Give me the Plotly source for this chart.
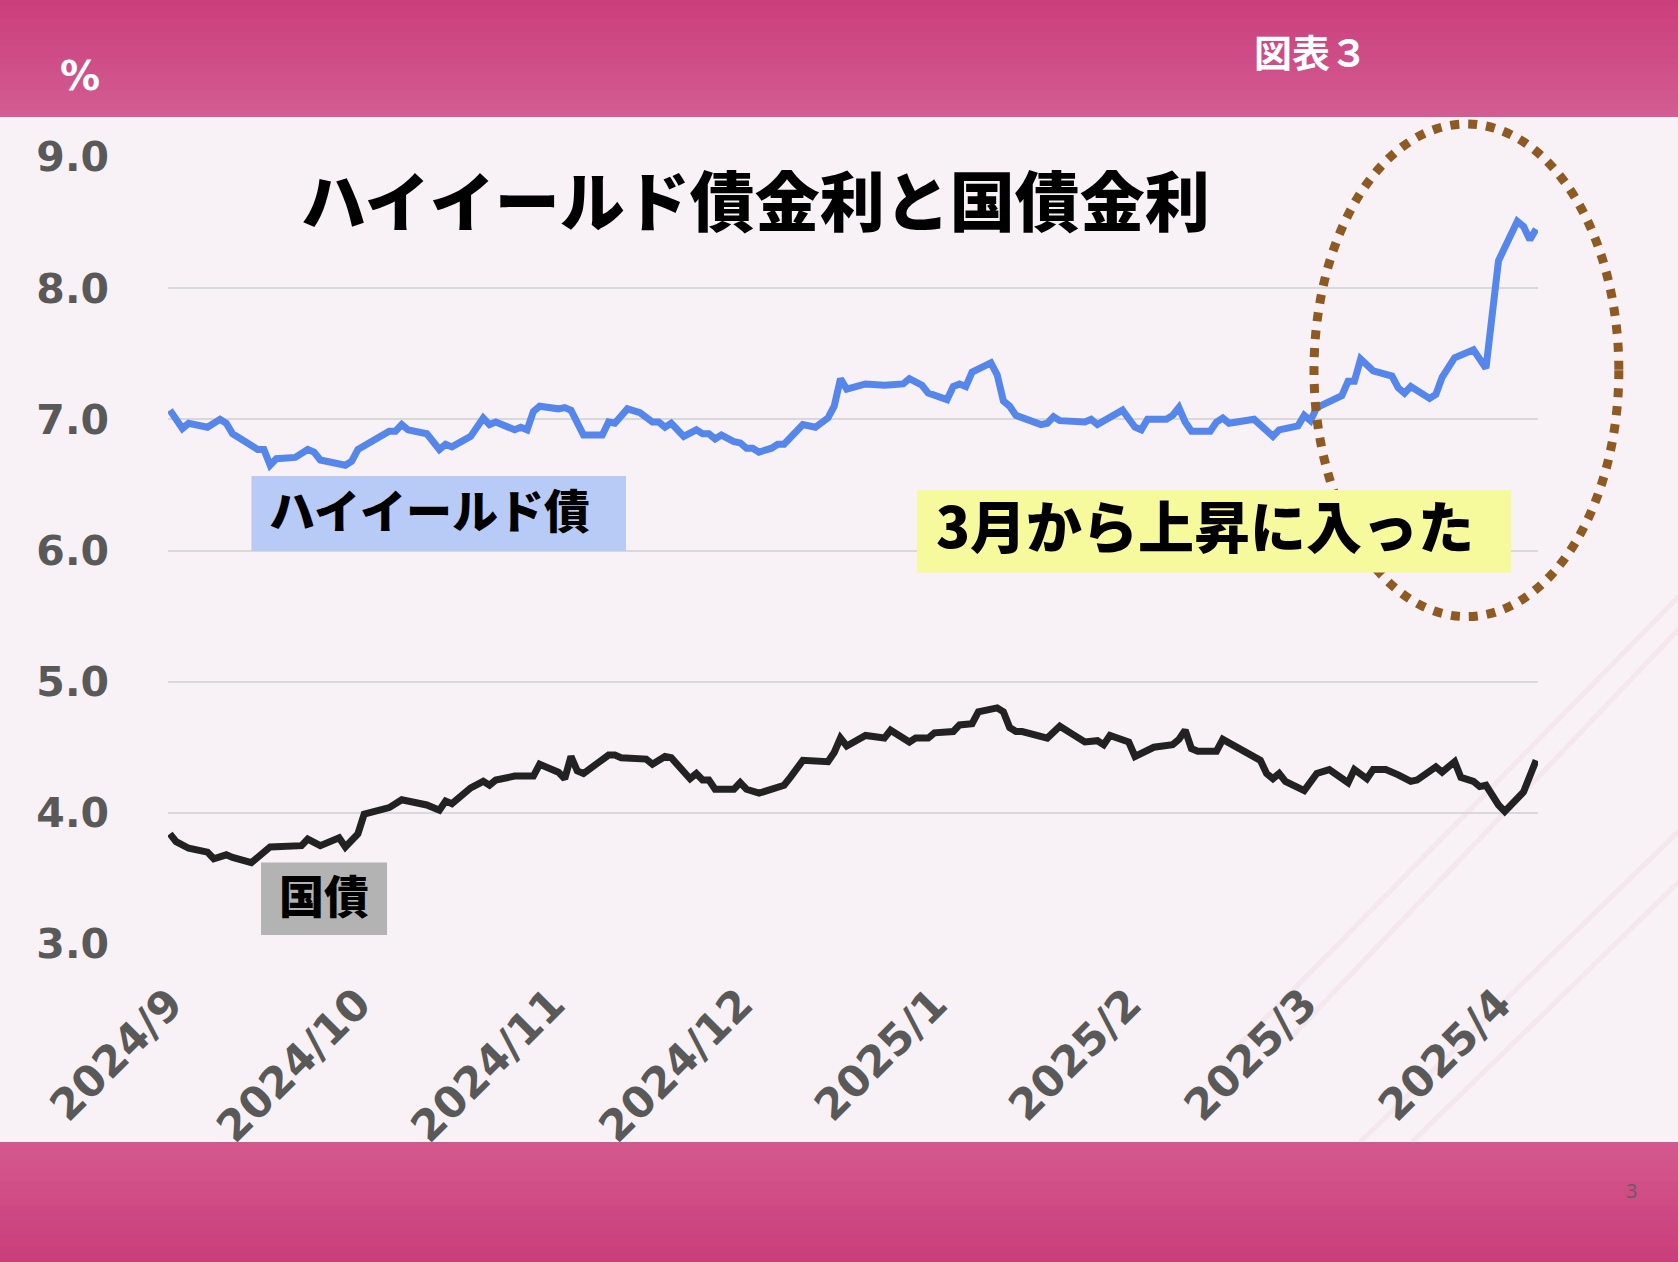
import plotly.graph_objects as go

# ハイイールド債（実効利回り）と米国債10年の金利, %
hy_dates = [
    "2024-09-01", "2024-09-03", "2024-09-04", "2024-09-07", "2024-09-09", "2024-09-10",
    "2024-09-11", "2024-09-14", "2024-09-15", "2024-09-16", "2024-09-17", "2024-09-18",
    "2024-09-21", "2024-09-23", "2024-09-24", "2024-09-25", "2024-09-29", "2024-09-30",
    "2024-10-01", "2024-10-06", "2024-10-07", "2024-10-08", "2024-10-09", "2024-10-12",
    "2024-10-14", "2024-10-15", "2024-10-16", "2024-10-19", "2024-10-21", "2024-10-22",
    "2024-10-23", "2024-10-26", "2024-10-27", "2024-10-28", "2024-10-29", "2024-10-30",
    "2024-11-02", "2024-11-03", "2024-11-04", "2024-11-06", "2024-11-09", "2024-11-10",
    "2024-11-11", "2024-11-13", "2024-11-15", "2024-11-17", "2024-11-18", "2024-11-19",
    "2024-11-20", "2024-11-22", "2024-11-24", "2024-11-25", "2024-11-26", "2024-11-27",
    "2024-11-28", "2024-11-30", "2024-12-01", "2024-12-02", "2024-12-03", "2024-12-04",
    "2024-12-06", "2024-12-07", "2024-12-08", "2024-12-11", "2024-12-13", "2024-12-15",
    "2024-12-16", "2024-12-17", "2024-12-18", "2024-12-21", "2024-12-24", "2024-12-27",
    "2024-12-28", "2024-12-30", "2024-12-31", "2025-01-03", "2025-01-04", "2025-01-05",
    "2025-01-06", "2025-01-07", "2025-01-08", "2025-01-10", "2025-01-11", "2025-01-12",
    "2025-01-13", "2025-01-14", "2025-01-18", "2025-01-19", "2025-01-20", "2025-01-21",
    "2025-01-25", "2025-01-26", "2025-01-27", "2025-01-31", "2025-02-02", "2025-02-03",
    "2025-02-04", "2025-02-07", "2025-02-08", "2025-02-09", "2025-02-10", "2025-02-11",
    "2025-02-14", "2025-02-15", "2025-02-16", "2025-02-17", "2025-02-21", "2025-02-24",
    "2025-02-25", "2025-02-28", "2025-03-01", "2025-03-02", "2025-03-03", "2025-03-07",
    "2025-03-08", "2025-03-09", "2025-03-10", "2025-03-12", "2025-03-15", "2025-03-16",
    "2025-03-17", "2025-03-18", "2025-03-21", "2025-03-22", "2025-03-23", "2025-03-25",
    "2025-03-28", "2025-03-30", "2025-04-01", "2025-04-04", "2025-04-05", "2025-04-06",
    "2025-04-07",
]
hy_rate = [
    7.07, 6.93, 6.97, 6.94, 7.00, 6.97,
    6.89, 6.81, 6.77, 6.77, 6.65, 6.70,
    6.71, 6.77, 6.75, 6.69, 6.65, 6.68,
    6.77, 6.91, 6.91, 6.96, 6.92, 6.89,
    6.77, 6.81, 6.79, 6.87, 7.01, 6.96,
    6.98, 6.92, 6.94, 6.92, 7.06, 7.10,
    7.08, 7.09, 7.07, 6.88, 6.88, 6.98,
    6.97, 7.08, 7.05, 6.98, 6.98, 6.94,
    6.97, 6.87, 6.92, 6.89, 6.89, 6.85,
    6.88, 6.83, 6.82, 6.78, 6.78, 6.75,
    6.78, 6.81, 6.81, 6.96, 6.94, 7.01,
    7.10, 7.31, 7.23, 7.27, 7.26, 7.27,
    7.31, 7.26, 7.20, 7.15, 7.25, 7.27,
    7.25, 7.36, 7.38, 7.43, 7.34, 7.14,
    7.10, 7.03, 6.96, 6.97, 7.02, 6.99,
    6.98, 7.00, 6.96, 7.07, 6.94, 6.92,
    7.00, 7.00, 7.03, 7.09, 6.98, 6.91,
    6.91, 6.98, 7.01, 6.97, 7.00, 6.87,
    6.92, 6.95, 7.03, 6.99, 7.09, 7.18,
    7.29, 7.29, 7.46, 7.37, 7.33, 7.24,
    7.20, 7.25, 7.16, 7.19, 7.32, 7.47,
    7.53, 7.39, 8.21, 8.51, 8.47, 8.37,
    8.45,
]

tsy_dates = [
    "2024-09-01", "2024-09-02", "2024-09-04", "2024-09-07", "2024-09-08", "2024-09-09",
    "2024-09-10", "2024-09-11", "2024-09-14", "2024-09-17", "2024-09-22", "2024-09-23",
    "2024-09-25", "2024-09-28", "2024-09-29", "2024-10-01", "2024-10-02", "2024-10-06",
    "2024-10-08", "2024-10-12", "2024-10-14", "2024-10-15", "2024-10-16", "2024-10-19",
    "2024-10-21", "2024-10-22", "2024-10-23", "2024-10-26", "2024-10-29", "2024-10-30",
    "2024-11-02", "2024-11-03", "2024-11-04", "2024-11-05", "2024-11-06", "2024-11-08",
    "2024-11-10", "2024-11-11", "2024-11-12", "2024-11-16", "2024-11-17", "2024-11-19",
    "2024-11-20", "2024-11-23", "2024-11-24", "2024-11-25", "2024-11-26", "2024-11-27",
    "2024-11-30", "2024-12-01", "2024-12-02", "2024-12-04", "2024-12-08", "2024-12-09",
    "2024-12-11", "2024-12-15", "2024-12-16", "2024-12-17", "2024-12-18", "2024-12-21",
    "2024-12-24", "2024-12-25", "2024-12-28", "2024-12-29", "2024-12-31", "2025-01-01",
    "2025-01-04", "2025-01-05", "2025-01-07", "2025-01-08", "2025-01-11", "2025-01-12",
    "2025-01-13", "2025-01-14", "2025-01-15", "2025-01-19", "2025-01-21", "2025-01-23",
    "2025-01-25", "2025-01-27", "2025-01-28", "2025-01-29", "2025-02-01", "2025-02-02",
    "2025-02-05", "2025-02-08", "2025-02-09", "2025-02-10", "2025-02-11", "2025-02-12",
    "2025-02-15", "2025-02-16", "2025-02-19", "2025-02-22", "2025-02-23", "2025-02-24",
    "2025-02-25", "2025-02-26", "2025-03-01", "2025-03-03", "2025-03-05", "2025-03-08",
    "2025-03-09", "2025-03-11", "2025-03-12", "2025-03-14", "2025-03-16", "2025-03-18",
    "2025-03-19", "2025-03-22", "2025-03-23", "2025-03-25", "2025-03-26", "2025-03-28",
    "2025-03-29", "2025-03-30", "2025-04-01", "2025-04-02", "2025-04-05", "2025-04-07",
]
tsy_rate = [
    3.84, 3.78, 3.73, 3.70, 3.65, 3.66,
    3.68, 3.66, 3.62, 3.74, 3.75, 3.80,
    3.75, 3.81, 3.74, 3.84, 3.99, 4.04,
    4.10, 4.06, 4.02, 4.09, 4.07, 4.19,
    4.24, 4.21, 4.25, 4.28, 4.28, 4.37,
    4.31, 4.26, 4.43, 4.32, 4.30, 4.37,
    4.44, 4.44, 4.42, 4.41, 4.37, 4.43,
    4.42, 4.26, 4.30, 4.25, 4.25, 4.18,
    4.18, 4.23, 4.18, 4.15, 4.21, 4.27,
    4.40, 4.39, 4.46, 4.57, 4.51, 4.59,
    4.57, 4.63, 4.54, 4.57, 4.57, 4.61,
    4.62, 4.67, 4.68, 4.77, 4.80, 4.77,
    4.65, 4.62, 4.62, 4.57, 4.66, 4.60,
    4.54, 4.55, 4.52, 4.59, 4.54, 4.43,
    4.50, 4.52, 4.56, 4.63, 4.49, 4.47,
    4.47, 4.56, 4.48, 4.40, 4.30, 4.26,
    4.30, 4.24, 4.17, 4.30, 4.33, 4.23,
    4.33, 4.26, 4.33, 4.33, 4.29, 4.24,
    4.25, 4.35, 4.31, 4.39, 4.27, 4.24,
    4.20, 4.21, 4.06, 4.01, 4.16, 4.40,
]

month_ticks = ["2024-09-01", "2024-10-01", "2024-11-01", "2024-12-01",
               "2025-01-01", "2025-02-01", "2025-03-01", "2025-04-01"]
month_labels = ["2024/9", "2024/10", "2024/11", "2024/12",
                "2025/1", "2025/2", "2025/3", "2025/4"]
y_ticks = [3, 4, 5, 6, 7, 8, 9]

JP = "Noto Sans CJK JP"
NUM = "DejaVu Sans"
GREY = "#595959"

fig = go.Figure()
fig.add_trace(go.Scatter(x=hy_dates, y=hy_rate, mode="lines", name="ハイイールド債",
                         line=dict(color="#5486ec", width=7)))
fig.add_trace(go.Scatter(x=tsy_dates, y=tsy_rate, mode="lines", name="国債",
                         line=dict(color="#222222", width=7)))


def band(y_top, y_bot, c_top, c_bot, n=24):
    # 縦グラデーションの帯（矩形を少しずつ重ねる）
    out = []
    for i in range(n):
        t = i / (n - 1)
        c = tuple(round(a + (b - a) * t) for a, b in zip(c_top, c_bot))
        y0 = y_top + (y_bot - y_top) * i / n
        out.append(dict(type="rect", xref="paper", yref="paper", layer="below",
                        x0=-0.2, x1=1.2, y0=y0, y1=y_bot, line_width=0,
                        fillcolor="rgb(%d,%d,%d)" % c))
    return out


shapes = []
shapes += band(1.25, 1.0508, (199, 52, 116), (211, 92, 146))
shapes += band(-0.2516, -0.45, (212, 88, 142), (198, 54, 116))
# 右下の薄い斜線
for x0, y0, x1, y1 in [(0.8701, -0.2516, 1.1300, 0.1900),
                       (0.9080, -0.2516, 1.1300, 0.1250),
                       (0.7810, -0.1300, 1.1300, 0.4900),
                       (0.8190, -0.1200, 1.1300, 0.4500)]:
    shapes.append(dict(type="line", xref="paper", yref="paper", layer="below",
                       x0=x0, y0=y0, x1=x1, y1=y1,
                       line=dict(color="rgba(215,170,195,0.13)", width=5)))
# 点線の楕円
shapes.append(dict(type="circle", xref="paper", yref="paper", layer="above",
                   x0=0.8365, x1=1.0590, y0=0.4160, y1=1.0420,
                   line=dict(color="#8e5a22", width=9, dash="9px,9px")))
# ラベルの背景
shapes.append(dict(type="rect", xref="paper", yref="paper", layer="above",
                   x0=0.0609, x1=0.3343, y0=0.4994, y1=0.5947,
                   line_width=0, fillcolor="#b7cbf6"))
shapes.append(dict(type="rect", xref="paper", yref="paper", layer="above",
                   x0=0.0679, x1=0.1599, y0=0.0114, y1=0.1036,
                   line_width=0, fillcolor="#b3b3b3"))
shapes.append(dict(type="rect", xref="paper", yref="paper", layer="above",
                   x0=0.5467, x1=0.9803, y0=0.4720, y1=0.5769,
                   line_width=0, fillcolor="#f6f99c"))

annotations = [
    dict(text="%", x=-0.0642, y=1.1030, font=dict(family=NUM, size=40, color="white", weight="bold")),
    dict(text="図表３", x=0.8343, y=1.1347, font=dict(family=JP, size=38, color="white", weight="bold")),
    dict(text="ハイイールド債金利と国債金利", x=0.4285, y=0.9479,
         font=dict(family=JP, size=65, color="black", weight=900)),
    dict(text="ハイイールド債", x=0.0723, y=0.5540, xanchor="left",
         font=dict(family=JP, size=46, color="black", weight=900)),
    dict(text="国債", x=0.1137, y=0.0635,
         font=dict(family=JP, size=45, color="black", weight=900)),
    dict(text="3月から上昇に入った", x=0.5591, y=0.5337, xanchor="left",
         font=dict(family=JP, size=56, color="black", weight=900)),
    dict(text="3", x=1.0686, y=-0.3126, font=dict(family="Noto Sans", size=20, color="#6f5868")),
]
for a in annotations:
    a.setdefault("xanchor", "center")
    a.update(xref="paper", yref="paper", yanchor="middle", showarrow=False)

fig.update_layout(
    width=1678, height=1262,
    margin=dict(l=168, r=140, t=157, b=318),
    paper_bgcolor="#f8f1f5",
    plot_bgcolor="rgba(0,0,0,0)",
    showlegend=False,
    shapes=shapes,
    annotations=annotations,
)
fig.update_xaxes(
    type="date",
    range=["2024-08-31 16:48", "2025-04-07 07:12"],
    tickvals=month_ticks, ticktext=month_labels, tickangle=-45,
    tickfont=dict(family=NUM, size=43, color=GREY, weight="bold"),
    ticklabelstandoff=25,
    showgrid=False, zeroline=False, showline=False,
)
fig.update_yaxes(
    range=[3, 9], tickvals=y_ticks, tickformat=".1f",
    tickfont=dict(family=NUM, size=41, color=GREY, weight="bold"),
    ticklabelstandoff=58,
    gridcolor="#d9d9d9", gridwidth=2, zeroline=False, showline=False,
)

fig.write_html("out.html", config={"displayModeBar": False},
               post_script="document.body.style.margin='0';document.body.style.overflow='hidden';")
